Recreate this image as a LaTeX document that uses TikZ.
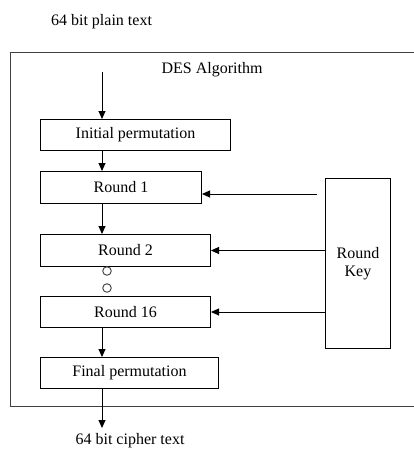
\documentclass[tikz,border=0pt]{standalone}
\usepackage{fontspec}
\setmainfont{Liberation Serif}
\usetikzlibrary{arrows.meta}
\begin{document}
\begin{tikzpicture}[x=1pt,y=-1pt,
  font=\fontsize{16}{19}\selectfont,
  blk/.style={draw=black, line width=1pt, rectangle, inner sep=0pt, anchor=north west, align=center},
  arr/.style={draw=black, line width=0.9pt, -{Triangle[length=8pt,width=7pt]}},
  lbl/.style={inner sep=0pt, anchor=center}]
\useasboundingbox (0,0) rectangle (414,450);
\clip (0,0) rectangle (414,450);
% outer frame
\node[draw=black!75, line width=1.4pt, rectangle, inner sep=0pt, anchor=north west,
      minimum width=410pt, minimum height=354pt] (frame) at (10,52) {};
\node[lbl] (plain) at (101.5,22) {64 bit plain text};
\node[lbl] (des) at (212,70) {DES Algorithm};
\node[lbl] (cipher) at (130,441) {64 bit cipher text};
% blocks
\node[blk, minimum width=190pt, minimum height=31pt] (ip) at (40,119) {Initial permutation};
\node[blk, minimum width=161pt, minimum height=32pt] (r1) at (40,171) {Round 1};
\node[blk, minimum width=170pt, minimum height=32pt] (r2) at (40,234) {Round 2};
\node[blk, minimum width=170pt, minimum height=31pt] (r16) at (40,296) {Round 16};
\node[blk, minimum width=178pt, minimum height=31pt] (fp) at (40,357) {Final permutation};
\node[blk, minimum width=65pt, minimum height=170pt] (key) at (325,178) {Round\\[-1pt]Key};
% dots
\node[draw=black!70, line width=1pt, circle, inner sep=0pt, minimum size=8.5pt] (d1) at (107,271) {};
\node[draw=black!70, line width=1pt, circle, inner sep=0pt, minimum size=8.5pt] (d2) at (107,288) {};
% coordinates
\coordinate (in) at (102,72);
\coordinate (out) at (102,428);
\coordinate (k1) at (317,194);
% vertical arrows
\draw[arr] (in) -- (ip.north -| in);
\draw[arr] (ip.south -| in) -- (r1.north -| in);
\draw[arr] (r1.south -| in) -- (r2.north -| in);
\draw[arr] (r16.south -| in) -- (fp.north -| in);
\draw[arr] (fp.south -| in) -- (out);
% key arrows
\draw[arr] (k1) -- (r1.east |- k1);
\draw[arr] (key.west |- r2.east) -- (r2.east);
\draw[arr] (key.west |- r16.east) -- (r16.east);
\end{tikzpicture}
\end{document}
